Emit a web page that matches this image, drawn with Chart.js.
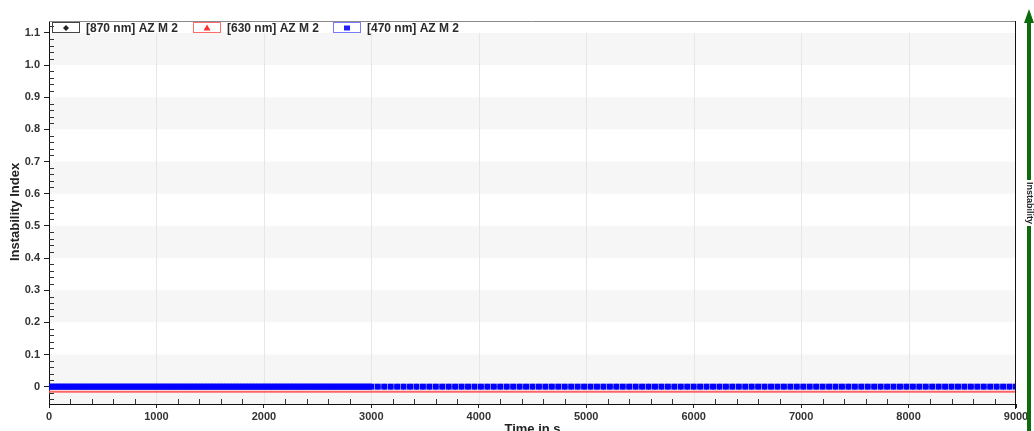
<!DOCTYPE html>
<html>
<head>
<meta charset="utf-8">
<script src="https://cdn.jsdelivr.net/npm/chart.js@4/dist/chart.umd.min.js"></script>
<style>
  html, body { margin: 0; padding: 0; background: #fff; overflow: hidden; }
  canvas { display: block; }
</style>
</head>
<body>
<canvas id="c" width="1034" height="431" style="width:1034px;height:431px"></canvas>
<script>
// Measurement times (s): profiles every 30 s up to 3000 s, then every 60 s
const timeS = [
  0,30,60,90,120,150,180,210,240,270,300,330,360,390,420,450,480,510,540,570,
  600,630,660,690,720,750,780,810,840,870,900,930,960,990,1020,1050,1080,1110,1140,1170,
  1200,1230,1260,1290,1320,1350,1380,1410,1440,1470,1500,1530,1560,1590,1620,1650,1680,1710,1740,1770,
  1800,1830,1860,1890,1920,1950,1980,2010,2040,2070,2100,2130,2160,2190,2220,2250,2280,2310,2340,2370,
  2400,2430,2460,2490,2520,2550,2580,2610,2640,2670,2700,2730,2760,2790,2820,2850,2880,2910,2940,2970,
  3000,
  3060,3120,3180,3240,3300,3360,3420,3480,3540,3600,3660,3720,3780,3840,3900,3960,4020,4080,4140,4200,
  4260,4320,4380,4440,4500,4560,4620,4680,4740,4800,4860,4920,4980,5040,5100,5160,5220,5280,5340,5400,
  5460,5520,5580,5640,5700,5760,5820,5880,5940,6000,6060,6120,6180,6240,6300,6360,6420,6480,6540,6600,
  6660,6720,6780,6840,6900,6960,7020,7080,7140,7200,7260,7320,7380,7440,7500,7560,7620,7680,7740,7800,
  7860,7920,7980,8040,8100,8160,8220,8280,8340,8400,8460,8520,8580,8640,8700,8760,8820,8880,8940,9000
];

// Instability index per wavelength
const idx870 = [
  0,0,0,0,0,0,0,0,0,0,0,0,0,0,0,0,0,0,0,0,
  0,0,0,0,0,0,0,0,0,0,0,0,0,0,0,0,0,0,0,0,
  0,0,0,0,0,0,0,0,0,0,0,0,0,0,0,0,0,0,0,0,
  0,0,0,0,0,0,0,0,0,0,0,0,0,0,0,0,0,0,0,0,
  0,0,0,0,0,0,0,0,0,0,0,0,0,0,0,0,0,0,0,0,
  0,
  0,0,0,0,0,0,0,0,0,0,0,0,0,0,0,0,0,0,0,0,
  0,0,0,0,0,0,0,0,0,0,0,0,0,0,0,0,0,0,0,0,
  0,0,0,0,0,0,0,0,0,0,0,0,0,0,0,0,0,0,0,0,
  0,0,0,0,0,0,0,0,0,0,0,0,0,0,0,0,0,0,0,0,
  0,0,0,0,0,0,0,0,0,0,0,0,0,0,0,0,0,0,0,0
];
const idx630 = [
  -0.016,-0.016,-0.016,-0.016,-0.016,-0.016,-0.016,-0.016,-0.016,-0.016,-0.016,-0.016,-0.016,-0.016,-0.016,-0.016,-0.016,-0.016,-0.016,-0.016,
  -0.016,-0.016,-0.016,-0.016,-0.016,-0.016,-0.016,-0.016,-0.016,-0.016,-0.016,-0.016,-0.016,-0.016,-0.016,-0.016,-0.016,-0.016,-0.016,-0.016,
  -0.016,-0.016,-0.016,-0.016,-0.016,-0.016,-0.016,-0.016,-0.016,-0.016,-0.016,-0.016,-0.016,-0.016,-0.016,-0.016,-0.016,-0.016,-0.016,-0.016,
  -0.016,-0.016,-0.016,-0.016,-0.016,-0.016,-0.016,-0.016,-0.016,-0.016,-0.016,-0.016,-0.016,-0.016,-0.016,-0.016,-0.016,-0.016,-0.016,-0.016,
  -0.016,-0.016,-0.016,-0.016,-0.016,-0.016,-0.016,-0.016,-0.016,-0.016,-0.016,-0.016,-0.016,-0.016,-0.016,-0.016,-0.016,-0.016,-0.016,-0.016,
  -0.016,
  -0.016,-0.016,-0.016,-0.016,-0.016,-0.016,-0.016,-0.016,-0.016,-0.016,-0.016,-0.016,-0.016,-0.016,-0.016,-0.016,-0.016,-0.016,-0.016,-0.016,
  -0.016,-0.016,-0.016,-0.016,-0.016,-0.016,-0.016,-0.016,-0.016,-0.016,-0.016,-0.016,-0.016,-0.016,-0.016,-0.016,-0.016,-0.016,-0.016,-0.016,
  -0.016,-0.016,-0.016,-0.016,-0.016,-0.016,-0.016,-0.016,-0.016,-0.016,-0.016,-0.016,-0.016,-0.016,-0.016,-0.016,-0.016,-0.016,-0.016,-0.016,
  -0.016,-0.016,-0.016,-0.016,-0.016,-0.016,-0.016,-0.016,-0.016,-0.016,-0.016,-0.016,-0.016,-0.016,-0.016,-0.016,-0.016,-0.016,-0.016,-0.016,
  -0.016,-0.016,-0.016,-0.016,-0.016,-0.016,-0.016,-0.016,-0.016,-0.016,-0.016,-0.016,-0.016,-0.016,-0.016,-0.016,-0.016,-0.016,-0.016,-0.016
];
const idx470 = [
  0,0,0,0,0,0,0,0,0,0,0,0,0,0,0,0,0,0,0,0,
  0,0,0,0,0,0,0,0,0,0,0,0,0,0,0,0,0,0,0,0,
  0,0,0,0,0,0,0,0,0,0,0,0,0,0,0,0,0,0,0,0,
  0,0,0,0,0,0,0,0,0,0,0,0,0,0,0,0,0,0,0,0,
  0,0,0,0,0,0,0,0,0,0,0,0,0,0,0,0,0,0,0,0,
  0,
  0,0,0,0,0,0,0,0,0,0,0,0,0,0,0,0,0,0,0,0,
  0,0,0,0,0,0,0,0,0,0,0,0,0,0,0,0,0,0,0,0,
  0,0,0,0,0,0,0,0,0,0,0,0,0,0,0,0,0,0,0,0,
  0,0,0,0,0,0,0,0,0,0,0,0,0,0,0,0,0,0,0,0,
  0,0,0,0,0,0,0,0,0,0,0,0,0,0,0,0,0,0,0,0
];

const seriesNames = ['[870 nm] AZ M 2', '[630 nm] AZ M 2', '[470 nm] AZ M 2'];
const xTickValues = [0, 1000, 2000, 3000, 4000, 5000, 6000, 7000, 8000, 9000];
const yTickValues = [0, 0.1, 0.2, 0.3, 0.4, 0.5, 0.6, 0.7, 0.8, 0.9, 1.0, 1.1];
const xTitle = 'Time in s';
const yTitle = 'Instability Index';
const sideLabel = 'Instability';

const FONT = '"Liberation Sans", Arial, sans-serif';
const toPoints = arr => arr.map((v, i) => ({ x: timeS[i], y: v }));

// Banded background, vertical grid lines, minor ticks, frame, legend, titles, side arrow
const decor = {
  id: 'decor',
  beforeDraw(chart) {
    const { ctx, chartArea: a, scales: { x, y } } = chart;
    ctx.save();
    ctx.fillStyle = '#f6f6f6';
    for (let k = 0; k < yTickValues.length - 1; k += 2) {
      const lo = k === 0 ? y.min : yTickValues[k];
      const top = y.getPixelForValue(yTickValues[k + 1]);
      const bot = y.getPixelForValue(lo);
      ctx.fillRect(a.left, top, a.right - a.left, bot - top);
    }
    ctx.strokeStyle = '#e6e6e6';
    ctx.lineWidth = 1;
    const yTop = y.getPixelForValue(yTickValues[yTickValues.length - 1]);
    xTickValues.slice(1, -1).forEach(v => {
      const px = Math.round(x.getPixelForValue(v)) + 0.5;
      ctx.beginPath(); ctx.moveTo(px, yTop); ctx.lineTo(px, a.bottom); ctx.stroke();
    });
    ctx.restore();
  },
  afterDraw(chart) {
    const { ctx, chartArea: a, scales: { x, y } } = chart;
    ctx.save();
    // minor ticks (inside)
    ctx.strokeStyle = '#333';
    ctx.lineWidth = 1;
    for (let t = 200; t < 9000; t += 200) {
      if (t % 1000 === 0) continue;
      const px = Math.round(x.getPixelForValue(t)) + 0.5;
      ctx.beginPath(); ctx.moveTo(px, a.bottom); ctx.lineTo(px, a.bottom - 5); ctx.stroke();
    }
    for (let k = -2; k <= 56; k++) {
      const v = k * 0.02;
      if (k % 5 === 0) continue;
      const py = Math.round(y.getPixelForValue(v)) + 0.5;
      if (py > a.bottom || py < a.top) continue;
      ctx.beginPath(); ctx.moveTo(a.left, py); ctx.lineTo(a.left + 5, py); ctx.stroke();
    }
    // frame: top and right
    ctx.strokeStyle = '#8a8a8a';
    ctx.beginPath(); ctx.moveTo(a.left, a.top + 0.5); ctx.lineTo(a.right, a.top + 0.5); ctx.stroke();
    ctx.strokeStyle = '#111';
    ctx.beginPath(); ctx.moveTo(a.right - 0.5, a.top); ctx.lineTo(a.right - 0.5, a.bottom + 5); ctx.stroke();

    // legend
    const colors = ['#222', '#ff3030', '#2020ff'];
    const boxBorder = ['#444', '#ff6a6a', '#7a7aff'];
    ctx.font = 'bold 12px ' + FONT;
    ctx.textBaseline = 'middle';
    ctx.textAlign = 'left';
    for (let i = 0; i < seriesNames.length; i++) {
      const bx = 52 + i * 140.5;
      const cy = 27.5;
      ctx.strokeStyle = boxBorder[i];
      ctx.lineWidth = 1;
      ctx.strokeRect(Math.round(bx) + 0.5, 22.5, 27, 10);
      const mx = Math.round(bx) + 14, my = cy + 0.5;
      ctx.fillStyle = colors[i];
      ctx.beginPath();
      if (i === 0) {
        ctx.moveTo(mx, my - 3); ctx.lineTo(mx + 3, my); ctx.lineTo(mx, my + 3); ctx.lineTo(mx - 3, my);
      } else if (i === 1) {
        ctx.moveTo(mx, my - 3.5); ctx.lineTo(mx + 3.5, my + 2.5); ctx.lineTo(mx - 3.5, my + 2.5);
      } else {
        ctx.rect(mx - 3, my - 2.5, 6, 5);
      }
      ctx.closePath(); ctx.fill();
      ctx.fillStyle = '#2a2a2a';
      ctx.fillText(seriesNames[i], Math.round(bx) + 34, cy + 1);
    }

    // axis titles
    ctx.fillStyle = '#222';
    ctx.font = 'bold 13px ' + FONT;
    ctx.textAlign = 'center';
    ctx.textBaseline = 'alphabetic';
    ctx.fillText(xTitle, (a.left + a.right) / 2, 433);
    ctx.save();
    ctx.translate(19, 212);
    ctx.rotate(-Math.PI / 2);
    ctx.fillText(yTitle, 0, 0);
    ctx.restore();

    // side arrow
    const green = '#0c6b0c';
    ctx.fillStyle = green;
    ctx.fillRect(1027, 22, 4, 158);
    ctx.fillRect(1027, 226, 4, 205);
    ctx.beginPath();
    ctx.moveTo(1029, 9); ctx.lineTo(1034, 23); ctx.lineTo(1024, 23); ctx.closePath(); ctx.fill();
    ctx.save();
    ctx.translate(1029, 203);
    ctx.rotate(Math.PI / 2);
    ctx.fillStyle = '#222';
    ctx.font = 'bold 9px ' + FONT;
    ctx.textAlign = 'center';
    ctx.textBaseline = 'middle';
    ctx.fillText(sideLabel, 0, 0);
    ctx.restore();
    ctx.restore();
  }
};

const tickFont = { family: FONT, size: 11, weight: 'bold' };

new Chart(document.getElementById('c'), {
  type: 'scatter',
  data: {
    datasets: [
      {
        type: 'scatter',
        label: seriesNames[0], data: toPoints(idx870), order: 2,
        showLine: false, pointStyle: 'rectRot', pointRadius: 3,
        pointBackgroundColor: '#000', pointBorderWidth: 0
      },
      {
        type: 'line',
        label: seriesNames[1], data: toPoints(idx630), order: 1,
        borderColor: '#ff6464', borderWidth: 2, fill: false, tension: 0,
        pointRadius: 0, pointStyle: 'triangle', backgroundColor: '#ff0000'
      },
      {
        type: 'scatter',
        label: seriesNames[2], data: toPoints(idx470), order: 0,
        showLine: false, pointStyle: 'rect', pointRadius: 4.2,
        pointBackgroundColor: '#0000ff', pointBorderWidth: 0
      }
    ]
  },
  options: {
    responsive: false,
    animation: false,
    events: [],
    layout: { padding: { top: 21, right: 18, bottom: 0, left: 0 } },
    plugins: { legend: { display: false }, tooltip: { enabled: false } },
    scales: {
      x: {
        type: 'linear', min: 0, max: 9000,
        afterBuildTicks(s) { s.ticks = xTickValues.map(v => ({ value: v })); },
        afterFit(s) { s.height = 27; },
        grid: { drawOnChartArea: false, tickLength: 4, color: '#222' },
        border: { color: '#111', width: 1 },
        ticks: {
          font: tickFont, color: '#333', padding: 2,
          maxRotation: 0, autoSkip: false,
          callback: v => String(v)
        }
      },
      y: {
        type: 'linear', min: -0.054, max: 1.137,
        afterBuildTicks(s) { s.ticks = yTickValues.map(v => ({ value: v })); },
        afterFit(s) { s.width = 49; },
        grid: { drawOnChartArea: false, tickLength: 5, color: '#222' },
        border: { color: '#111', width: 1 },
        ticks: {
          font: tickFont, color: '#333', padding: 4,
          callback: v => (v === 0 ? '0' : v.toFixed(1))
        }
      }
    }
  },
  plugins: [decor]
});
</script>
</body>
</html>
